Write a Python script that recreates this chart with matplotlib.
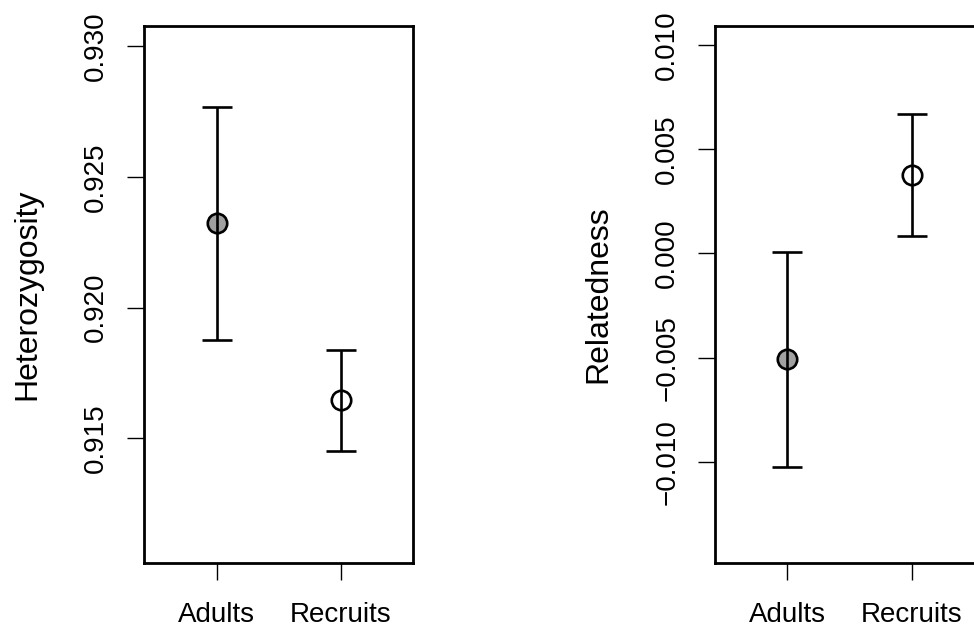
import matplotlib.pyplot as plt

plt.rcParams['font.family'] = ['Liberation Sans', 'DejaVu Sans']

groups = ["Adults", "Recruits"]

# Heterozygosity: mean and error half-width
het_mean = [0.92322, 0.91645]
het_err = [0.00447, 0.00192]
het_ticks = [0.915, 0.920, 0.925, 0.930]
het_labels = ["0.915", "0.920", "0.925", "0.930"]

# Relatedness: mean and error half-width
rel_mean = [-0.00508, 0.00378]
rel_err = [0.00516, 0.00293]
rel_ticks = [-0.010, -0.005, 0.000, 0.005, 0.010]
rel_labels = ["\u22120.010", "\u22120.005", "0.000", "0.005", "0.010"]

face = ['#a0a0a0', 'white']

fig = plt.figure(figsize=(9.74, 6.29), dpi=100)
ax1 = fig.add_axes([0.1482, 0.1054, 0.2759, 0.8528])
ax2 = fig.add_axes([0.7344, 0.1054, 0.2759, 0.8528])

def panel(ax, mean, err, ticks, labels, ylim, ylabel):
    x = [1, 2]
    for i in range(2):
        ax.plot(x[i], mean[i], 'o', ms=14, mfc=face[i], mec='black', mew=1.9, zorder=2)
    ax.errorbar(x, mean, yerr=err, fmt='none', ecolor='black', elinewidth=1.9,
                capsize=10.5, capthick=1.9, zorder=3)
    ax.set_xlim(0.42, 2.58)
    ax.set_ylim(*ylim)
    ax.set_xticks(x)
    ax.set_xticklabels(groups)
    ax.set_yticks(ticks)
    ax.set_yticklabels(labels, rotation=90, va='center')
    ax.tick_params(length=12.2, width=1.0, labelsize=20, direction='out')
    ax.tick_params(axis='x', pad=16)
    ax.tick_params(axis='y', pad=13)
    for s in ax.spines.values():
        s.set_linewidth(2.0)
    ax.set_ylabel(ylabel, fontsize=23)
    ax.yaxis.set_label_coords(-0.38, 0.5)

panel(ax1, het_mean, het_err, het_ticks, het_labels, (0.91024, 0.93076), "Heterozygosity")
panel(ax2, rel_mean, rel_err, rel_ticks, rel_labels, (-0.01484, 0.0109), "Relatedness")

fig.savefig('out.png', dpi=100)
